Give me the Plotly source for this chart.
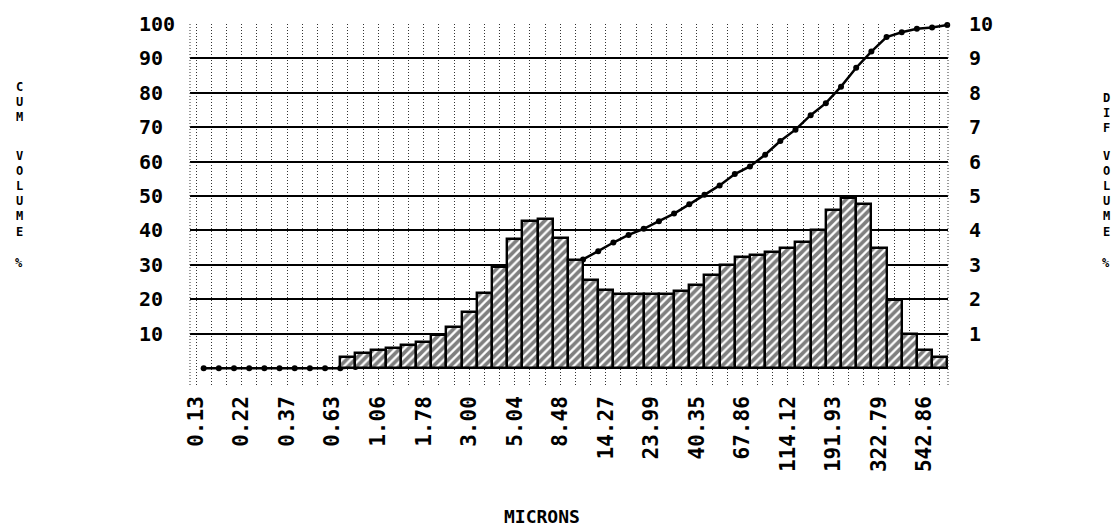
import plotly.graph_objects as go

# Particle size channels (microns), labelled every third channel
size_labels = ["0.13", "0.22", "0.37", "0.63", "1.06", "1.78", "3.00", "5.04",
               "8.48", "14.27", "23.99", "40.35", "67.86", "114.12", "191.93",
               "322.79", "542.86"]

# Differential volume % per channel, starting at channel 10
dif_volume = [0.31, 0.44, 0.54, 0.59, 0.66, 0.76, 0.95, 1.21, 1.64, 2.19,
              2.93, 3.76, 4.29, 4.34, 3.78, 3.14, 2.57, 2.28, 2.16, 2.16,
              2.16, 2.16, 2.25, 2.43, 2.71, 3.00, 3.22, 3.29, 3.38, 3.50,
              3.67, 4.02, 4.60, 4.93, 4.77, 3.48, 1.97, 0.99, 0.54, 0.31]

# Cumulative volume % at the upper edge of each channel
cum_volume = [0, 0, 0, 0, 0, 0, 0, 0, 0, 0,
              0.3, 0.75, 1.3, 1.9, 2.5, 3.3, 4.2, 5.5, 7.1, 9.3,
              12.2, 16.0, 20.3, 24.6, 28.4, 31.6, 34.0, 36.5, 38.7, 40.5,
              42.7, 44.9, 47.6, 50.4, 53.1, 56.4, 58.6, 62.0, 66.0, 69.3,
              73.5, 77.0, 81.8, 87.3, 92.0, 96.2, 97.6, 98.6, 99.0, 99.7]

cum_ticks = [10, 20, 30, 40, 50, 60, 70, 80, 90, 100]
dif_ticks = [1, 2, 3, 4, 5, 6, 7, 8, 9, 10]

FIRST_BAR_CHANNEL = 10
LABEL_STEP = 3
n_channels = len(cum_volume)

channel_pos = list(range(n_channels))
bar_pos = [FIRST_BAR_CHANNEL + k for k in range(len(dif_volume))]
edge_pos = [i + 0.5 for i in range(n_channels)]
channel_text = [size_labels[i // LABEL_STEP] if i % LABEL_STEP == 0 else ""
                for i in channel_pos]

MONO = "DejaVu Sans Mono"
NBSP = "\u00a0"

fig = go.Figure()

# cumulative curve (drawn underneath the bars)
fig.add_trace(go.Scatter(
    x=edge_pos, y=cum_volume, mode="lines+markers",
    line=dict(color="black", width=2.5),
    marker=dict(color="black", size=6),
    yaxis="y", cliponaxis=False, showlegend=False,
))

# hatched differential histogram
fig.add_trace(go.Bar(
    x=bar_pos, y=dif_volume, width=1.0,
    marker=dict(color="white",
                line=dict(color="black", width=2.4),
                pattern=dict(shape="/", fgcolor="black", bgcolor="white",
                             size=6, solidity=0.62, fillmode="overlay")),
    yaxis="y2", showlegend=False,
))

L, R, T, B = 190, 948, 20, 385
W, H = 1119, 528


def px_x(x):
    return (x - L) / (R - L)


def px_y(y):
    return (B - y) / (B - T)


annotations = []


def stack(letters, x, ys, size=12):
    for ch, y in zip(letters, ys):
        annotations.append(dict(
            text=ch, x=px_x(x), y=px_y(y), xref="paper", yref="paper",
            xanchor="center", yanchor="middle", showarrow=False,
            font=dict(family=MONO, size=size, color="black", weight="bold")))


stack("CUM", 19, [84, 99, 114])
stack("VOLUME", 19, [153, 168.4, 183.8, 199.2, 214.6, 230])
stack("%", 19, [262])
stack("DIF", 1106, [95, 110, 125])
stack("VOLUME", 1106, [153, 168.4, 183.8, 199.2, 214.6, 230])
stack("%", 1106, [262])

annotations.append(dict(
    text="MICRONS", x=px_x(542), y=px_y(518), xref="paper", yref="paper",
    xanchor="center", yanchor="middle", showarrow=False,
    font=dict(family=MONO, size=18, color="black", weight="bold")))

shapes = [
    dict(type="line", xref="paper", yref="paper", x0=0, x1=0, y0=0, y1=1,
         line=dict(color="#333", width=1, dash="1px,2px")),
    dict(type="line", xref="paper", yref="paper", x0=1, x1=1, y0=0, y1=1,
         line=dict(color="#333", width=1, dash="1px,2px")),
]

fig.update_layout(
    width=W, height=H,
    margin=dict(l=L, r=W - R, t=T, b=H - B, pad=0),
    paper_bgcolor="white", plot_bgcolor="white",
    bargap=0,
    xaxis=dict(
        range=[-0.4, 49.55], tickmode="array",
        tickvals=channel_pos, ticktext=channel_text, tickangle=-90,
        showgrid=True, gridcolor="#333", gridwidth=1, griddash="1px,2px",
        zeroline=False, showline=False, ticks="", ticklabelstandoff=6,
        tickfont=dict(family=MONO, size=21, color="black", weight="bold"),
    ),
    yaxis=dict(
        range=[-4.9, 100], tickmode="array", tickvals=cum_ticks,
        ticktext=[str(v) + (NBSP if v < 100 else "") for v in cum_ticks],
        showgrid=True, gridcolor="black", gridwidth=1.5,
        zeroline=False, showline=False, ticks="", ticklabelstandoff=14,
        tickfont=dict(family=MONO, size=20, color="black", weight="bold"),
    ),
    yaxis2=dict(
        range=[-0.49, 10], overlaying="y", side="right", tickmode="array",
        tickvals=dif_ticks, ticktext=[str(v) for v in dif_ticks],
        showgrid=False, zeroline=False, showline=False, ticks="",
        ticklabelstandoff=20,
        tickfont=dict(family=MONO, size=20, color="black", weight="bold"),
    ),
    annotations=annotations,
    shapes=shapes,
)

fig.write_html("out.html")
